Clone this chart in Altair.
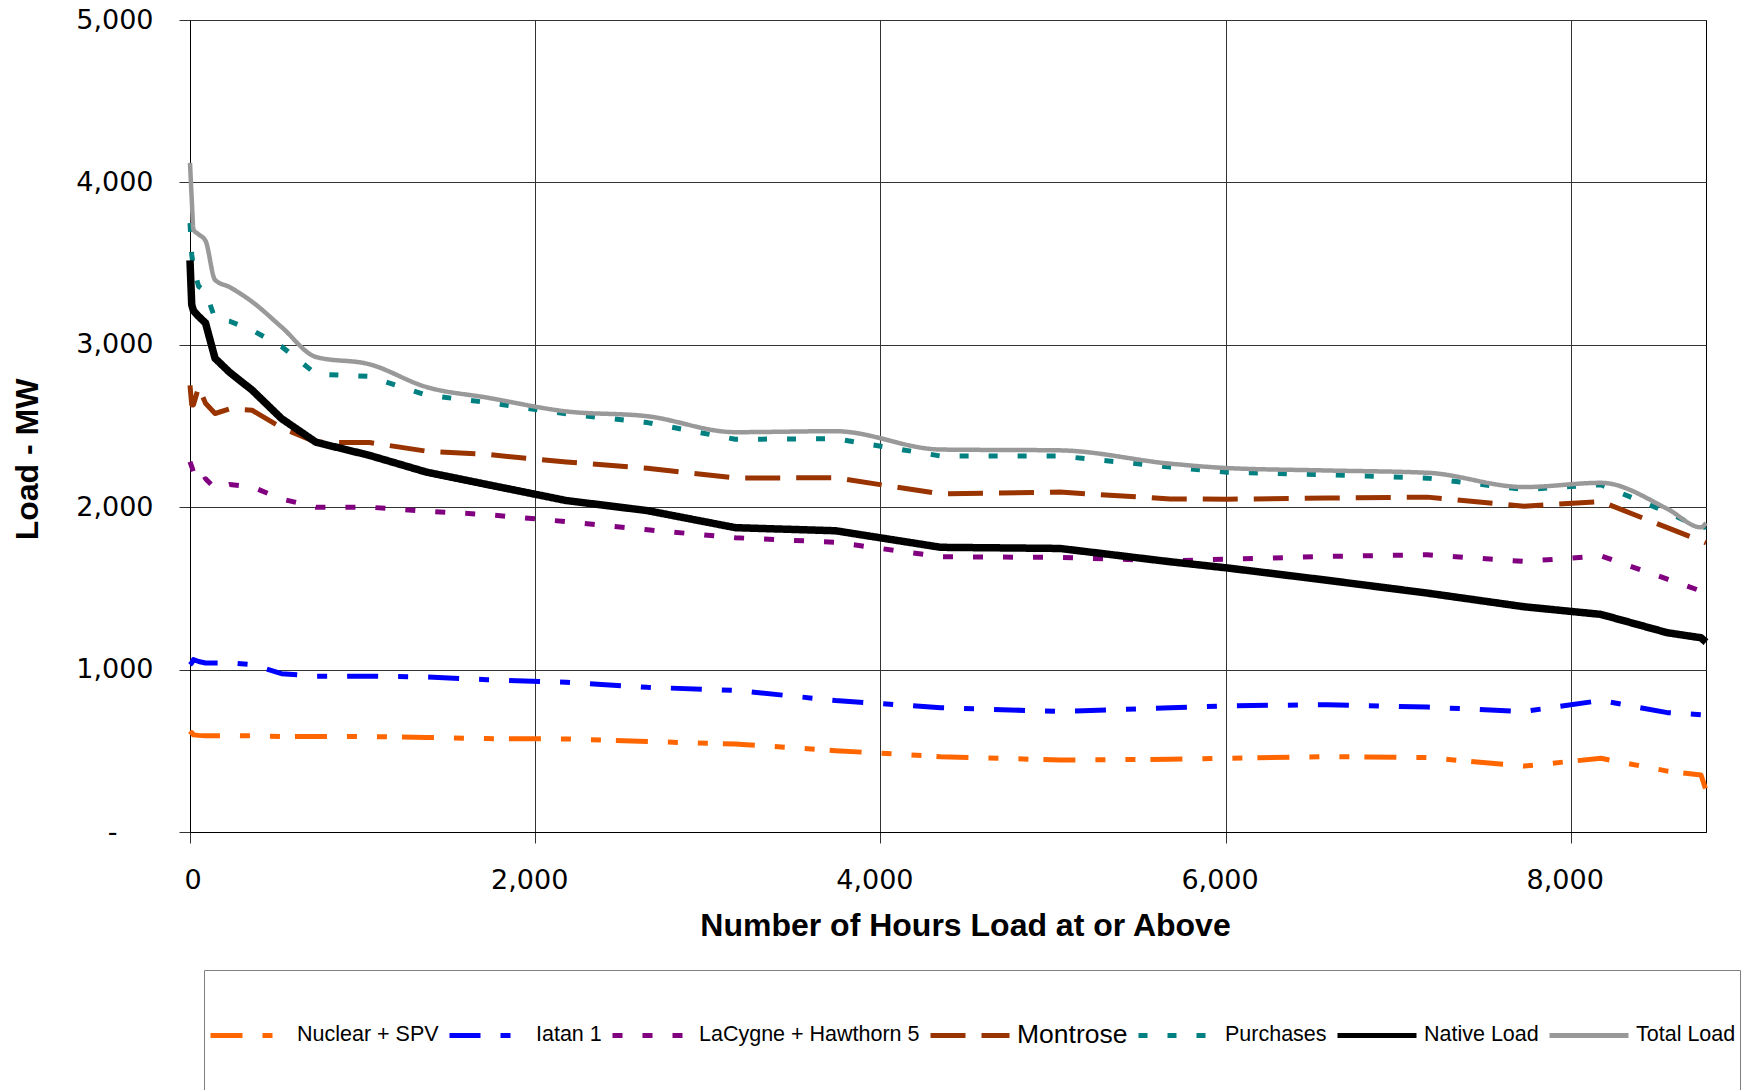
import altair as alt
import pandas as pd

hours = [0, 10, 20, 50, 90, 145, 230, 360, 530, 730, 1040, 1370, 1720, 2180, 2650,
         3160, 3740, 4350, 5040, 5680, 6010, 6590, 7170, 7730, 8175, 8560, 8755, 8784]

series_names = ["Nuclear + SPV", "Iatan 1", "LaCygne + Hawthorn 5", "Montrose",
                "Purchases", "Native Load", "Total Load"]

nuclear = [600, 612, 598, 595, 592, 592, 594, 592, 588, 588, 588, 582, 575, 573, 557,
           542, 501, 464, 443, 448, 454, 464, 458, 406, 454, 375, 351, 258]
iatan = [1030, 1041, 1062, 1050, 1041, 1041, 1041, 1030, 975, 959, 959, 955, 938, 922, 891,
         872, 810, 765, 742, 765, 777, 784, 769, 742, 810, 735, 722, 608]
lacygne = [2280, 2250, 2216, 2144, 2175, 2117, 2140, 2125, 2051, 2000, 2000, 1975, 1955, 1911, 1861,
           1812, 1784, 1695, 1691, 1670, 1680, 1697, 1707, 1666, 1700, 1557, 1484, 1480]
montrose = [2750, 2630, 2630, 2740, 2640, 2577, 2605, 2597, 2490, 2400, 2398, 2345, 2325, 2278, 2240,
            2180, 2181, 2082, 2093, 2051, 2049, 2056, 2062, 2006, 2035, 1874, 1793, 1780]
purchases = [3750, 3556, 3474, 3360, 3330, 3160, 3145, 3090, 2990, 2820, 2805, 2690, 2645, 2575, 2521,
             2418, 2422, 2315, 2315, 2247, 2215, 2200, 2179, 2109, 2138, 1969, 1870, 1880]
native = [3520, 3247, 3210, 3175, 3134, 2917, 2830, 2721, 2546, 2400, 2319, 2216, 2140, 2041, 1979,
          1874, 1855, 1753, 1746, 1664, 1626, 1550, 1471, 1387, 1340, 1227, 1196, 1169]
total = [4120, 3900, 3710, 3680, 3640, 3400, 3355, 3265, 3110, 2925, 2880, 2740, 2675, 2590, 2560,
         2462, 2468, 2355, 2350, 2268, 2241, 2226, 2212, 2124, 2150, 1990, 1876, 1903]

x_ticks = [0, 2000, 4000, 6000, 8000]
y_ticks = [0, 1000, 2000, 3000, 4000, 5000]

colors = ["#FF6600", "#0000FF", "#800080", "#993300", "#008080", "#000000", "#999999"]
dashes = [[32, 20, 10, 20, 10, 15], [31, 20, 10, 20], [10, 20], [35, 16], [9, 20], [1, 0], [1, 0]]
widths = [5, 5, 5, 5, 5, 7.5, 4.5]

all_values = [nuclear, iatan, lacygne, montrose, purchases, native, total]
rows = []
for name, vals, w in zip(series_names, all_values, widths):
    for h, v in zip(hours, vals):
        rows.append({"hours": h, "load": v, "series": name, "w": w})
df = pd.DataFrame(rows)

legend = alt.Legend(
    orient="none", legendX=14, legendY=950, direction="horizontal", columns=7,
    title="\u00a0", titleFontSize=12, titlePadding=7,
    symbolType="M-1,-1.55M-1,0L1,0M1,1.55", symbolSize=6241,
    symbolFillColor="transparent", symbolStrokeWidth=5,
    labelFont="Liberation Sans",
    labelFontSize={"expr": "datum.label == 'Montrose' ? 26.5 : 21.5"},
    labelColor="black", labelOffset=5, labelLimit=400, columnPadding=0,
    padding=4, strokeColor="#808080", fillColor="white",
)

base = alt.Chart(df).encode(
    x=alt.X("hours:Q",
            scale=alt.Scale(domain=[0, 8784], nice=False, zero=True),
            axis=alt.Axis(values=x_ticks, title="Number of Hours Load at or Above",
                          labelExpr="format(datum.value, ',')",
                          grid=True, tickSize=11, labelPadding=24, labelOffset=-6,
                          titleX=775, titleY=93, titleBaseline="middle", titleAlign="center")),
    y=alt.Y("load:Q",
            scale=alt.Scale(domain=[0, 5000], nice=False),
            axis=alt.Axis(values=y_ticks, title="Load - MW", grid=True, tickSize=11,
                          labelPadding={"condition": {"test": "datum.value == 0", "value": 62}, "value": 26},
                          labelExpr="datum.value == 0 ? '-' : format(datum.value, ',')",
                          titleX=-163, titleY=439, titleBaseline="middle", titleAlign="center")),
    color=alt.Color("series:N", scale=alt.Scale(domain=series_names, range=colors), legend=legend),
    strokeDash=alt.StrokeDash("series:N", scale=alt.Scale(domain=series_names, range=dashes), legend=legend),
    strokeWidth=alt.StrokeWidth("w:Q", scale=None),
)

lines = base.mark_line(strokeCap="butt", strokeJoin="round").transform_filter(
    alt.datum.series != "Total Load")
total_line = base.mark_line(strokeCap="butt", strokeJoin="round", interpolate="monotone").transform_filter(
    alt.datum.series == "Total Load")

chart = alt.layer(lines, total_line).properties(
    width=1516, height=812, autosize="none",
    padding={"left": 190, "top": 20, "right": 50, "bottom": 258},
    background="white",
).configure_view(
    stroke="black", strokeWidth=1
).configure_axis(
    labelFont="DejaVu Sans", labelFontSize=27, labelColor="black",
    titleFont="Liberation Sans", titleFontSize=32, titleFontWeight="bold", titleColor="black",
    gridColor="#333333", gridWidth=1, domainColor="black", domainWidth=1,
    tickColor="#333333", tickWidth=1,
)

chart.save("out.html", embed_options={"renderer": "svg", "actions": False})
